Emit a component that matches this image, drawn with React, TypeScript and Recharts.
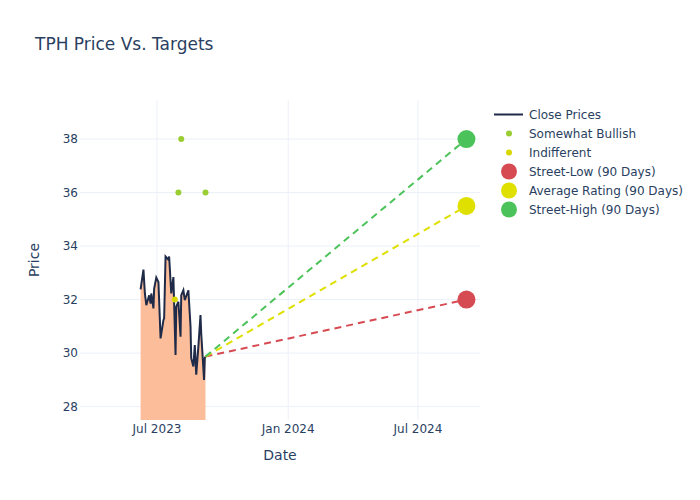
import React from "react";
import {
  ComposedChart,
  Area,
  Line,
  Scatter,
  XAxis,
  YAxis,
  CartesianGrid,
} from "recharts";

// close prices
const closeDates = [
  "2023-06-08", "2023-06-12", "2023-06-14", "2023-06-16", "2023-06-20",
  "2023-06-22", "2023-06-23", "2023-06-26", "2023-06-27", "2023-06-30",
  "2023-07-03", "2023-07-06", "2023-07-10", "2023-07-11", "2023-07-13",
  "2023-07-17", "2023-07-18", "2023-07-21", "2023-07-24", "2023-07-27",
  "2023-07-28", "2023-07-31", "2023-08-03", "2023-08-04", "2023-08-07",
  "2023-08-09", "2023-08-14", "2023-08-17", "2023-08-18", "2023-08-21",
  "2023-08-23", "2023-08-25", "2023-08-28", "2023-08-31", "2023-09-01",
  "2023-09-05", "2023-09-06", "2023-09-07",
];
const closePrices = [
  32.38, 33.12, 32.23, 31.79, 32.16,
  31.85, 32.23, 31.67, 32.41, 32.82,
  32.66, 30.55, 31.23, 31.3, 33.61,
  33.49, 33.61, 32.23, 32.84, 29.93,
  31.73, 31.92, 30.61, 32.16, 32.35,
  31.98, 32.35, 30.99, 29.81, 29.5,
  30.3, 29.19, 30.24, 31.42, 30.74,
  29.0, 29.81, 29.87,
];

const bullishDates = ["2023-07-31", "2023-08-04", "2023-09-07"];
const bullishTargets = [36, 38, 36];
const indifferentDates = ["2023-07-26"];
const indifferentTargets = [32];

const targetDate = "2024-09-07";
const streetLow = 32;
const averageRating = 35.5;
const streetHigh = 38;

const xTickDates = ["2023-07-01", "2024-01-01", "2024-07-01"];
const xTickLabels = ["Jul 2023", "Jan 2024", "Jul 2024"];
const yTicks = [28, 30, 32, 34, 36, 38];

const ink = "#2a3f5f";
const font = "DejaVu Sans, Verdana, sans-serif";

const t = (d: string) => Date.parse(d);

const closeData = closeDates.map((d, i) => ({ t: t(d), v: closePrices[i] }));
const bullishData = bullishDates.map((d, i) => ({ t: t(d), v: bullishTargets[i] }));
const indifferentData = indifferentDates.map((d, i) => ({ t: t(d), v: indifferentTargets[i] }));
const last = closeData[closeData.length - 1];
const lowLine = [last, { t: t(targetDate), v: streetLow }];
const avgLine = [last, { t: t(targetDate), v: averageRating }];
const highLine = [last, { t: t(targetDate), v: streetHigh }];

const RED = "#d64a52";
const YELLOW = "#dfdf00";
const GREEN = "#4cc35a";
const BULLISH = "#9acd32";
const INDIFF = "#d8d800";

const dot = (r: number, color: string) => (p: any) =>
  <circle cx={p.cx} cy={p.cy} r={r} fill={color} />;

const legendItems = [
  { name: "Close Prices", kind: "line", color: "#1f2b48", r: 0 },
  { name: "Somewhat Bullish", kind: "dot", color: BULLISH, r: 3 },
  { name: "Indifferent", kind: "dot", color: INDIFF, r: 3 },
  { name: "Street-Low (90 Days)", kind: "dot", color: RED, r: 8 },
  { name: "Average Rating (90 Days)", kind: "dot", color: YELLOW, r: 8 },
  { name: "Street-High (90 Days)", kind: "dot", color: GREEN, r: 8 },
];

export default function App() {
  const xTicks = xTickDates.map(t);
  return (
    <div style={{ position: "absolute", left: 0, top: 0, width: 700, height: 500, background: "#fff", fontFamily: font }}>
      <div style={{ position: "absolute", left: 35, top: 34, fontSize: 17, lineHeight: "20px", color: ink, whiteSpace: "nowrap" }}>
        TPH Price Vs. Targets
      </div>
      <ComposedChart
        width={700}
        height={500}
        margin={{ top: 100, right: 220, bottom: 50, left: 20 }}
      >
        <CartesianGrid stroke="#ebf0f8" strokeWidth={1} syncWithTicks />
        <XAxis
          dataKey="t"
          type="number"
          scale="time"
          domain={[t("2023-03-15"), t("2024-09-26")]}
          ticks={xTicks}
          tickFormatter={(v: number) => xTickLabels[xTicks.indexOf(v)]}
          allowDataOverflow
          axisLine={false}
          tickLine={false}
          tickSize={0}
          tickMargin={4}
          height={30}
          tick={{ fill: ink, fontSize: 12, fontFamily: font }}
          label={{ value: "Date", position: "bottom", offset: 0, fill: ink, fontSize: 14, fontFamily: font }}
        />
        <YAxis
          type="number"
          domain={[27.5, 39.46]}
          ticks={yTicks}
          allowDataOverflow
          axisLine={false}
          tickLine={false}
          tickSize={0}
          tickMargin={2}
          width={60}
          tick={{ fill: ink, fontSize: 12, fontFamily: font }}
          label={{ value: "Price", angle: -90, position: "insideLeft", offset: 14, fill: ink, fontSize: 14, fontFamily: font, style: { textAnchor: "middle" } }}
        />
        <Area
          data={closeData}
          dataKey="v"
          type="linear"
          stroke="#1f2b48"
          strokeWidth={2}
          fill="#fcbe9a"
          fillOpacity={1}
          isAnimationActive={false}
          dot={false}
          activeDot={false}
        />
        <Line data={lowLine} dataKey="v" type="linear" stroke={RED} strokeWidth={2} strokeDasharray="7 5" dot={false} activeDot={false} isAnimationActive={false} />
        <Line data={avgLine} dataKey="v" type="linear" stroke={YELLOW} strokeWidth={2} strokeDasharray="7 5" dot={false} activeDot={false} isAnimationActive={false} />
        <Line data={highLine} dataKey="v" type="linear" stroke={GREEN} strokeWidth={2} strokeDasharray="7 5" dot={false} activeDot={false} isAnimationActive={false} />
        <Scatter data={bullishData} dataKey="v" shape={dot(3, BULLISH)} isAnimationActive={false} />
        <Scatter data={indifferentData} dataKey="v" shape={dot(3, INDIFF)} isAnimationActive={false} />
        <Scatter data={[lowLine[1]]} dataKey="v" shape={dot(9, RED)} isAnimationActive={false} />
        <Scatter data={[avgLine[1]]} dataKey="v" shape={dot(9, YELLOW)} isAnimationActive={false} />
        <Scatter data={[highLine[1]]} dataKey="v" shape={dot(9, GREEN)} isAnimationActive={false} />
      </ComposedChart>
      <div style={{ position: "absolute", left: 494, top: 105, fontSize: 12, color: ink }}>
        {legendItems.map((it) => (
          <div key={it.name} style={{ display: "flex", alignItems: "center", height: 19, whiteSpace: "nowrap" }}>
            <svg width={35} height={19}>
              {it.kind === "line" ? (
                <line x1={0} y1={9.5} x2={29} y2={9.5} stroke={it.color} strokeWidth={2} />
              ) : (
                <circle cx={15} cy={9.5} r={it.r} fill={it.color} />
              )}
            </svg>
            <span>{it.name}</span>
          </div>
        ))}
      </div>
    </div>
  );
}
